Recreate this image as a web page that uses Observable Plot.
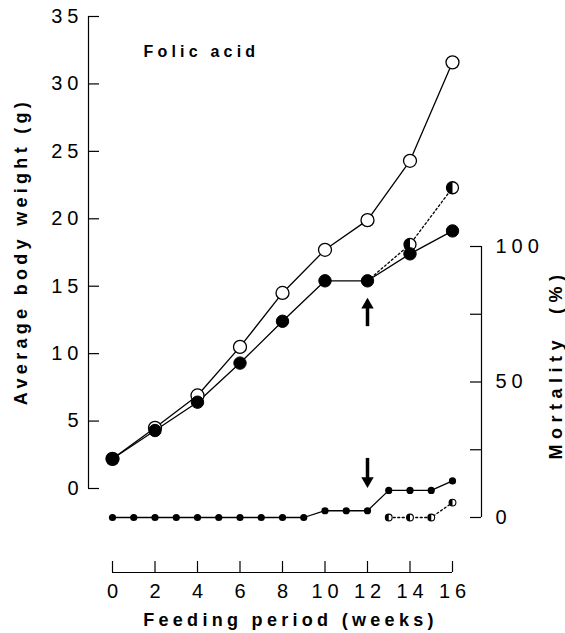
<!DOCTYPE html>
<html>
<head>
<meta charset="utf-8">
<script src="https://cdn.jsdelivr.net/npm/d3@7"></script>
<script src="https://cdn.jsdelivr.net/npm/@observablehq/plot@0.6"></script>
<style>
  html, body { margin: 0; padding: 0; background: #fff; }
  #chart svg { display: block; }
  g[aria-description="tick-labels"] text { letter-spacing: 5px; }
  g[aria-description="titles"] text { letter-spacing: 4.3px; white-space: pre; }
  g[aria-description="y2-title"] text { letter-spacing: 5.5px; white-space: pre; }
  g[aria-description="legend-title"] text { letter-spacing: 4.2px; }
</style>
</head>
<body>
<div id="chart"></div>
<script>
// ---- data ----
const weeks = [0, 2, 4, 6, 8, 10, 12, 14, 16];
const controlWeight   = [2.2, 4.5, 6.9, 10.5, 14.5, 17.7, 19.9, 24.3, 31.6];
const deficientWeight = [2.2, 4.3, 6.4, 9.3, 12.4, 15.4, 15.4, 17.4, 19.1];
const supplementedWeeks  = [12, 14, 16];
const supplementedWeight = [15.4, 18.1, 22.3];

const mortalityWeeks = [0, 1, 2, 3, 4, 5, 6, 7, 8, 9, 10, 11, 12, 13, 14, 15, 16];
const deficientMortality = [0, 0, 0, 0, 0, 0, 0, 0, 0, 0, 2.5, 2.5, 2.5, 10, 10, 10, 13.5];
const supplementedMortalityWeeks = [13, 14, 15, 16];
const supplementedMortality = [0, 0, 0, 5.5];

const weightTicks = [0, 5, 10, 15, 20, 25, 30, 35];
const mortalityTicks = [0, 25, 50, 75, 100];
const mortalityTickLabels = [0, 50, 100];
const weekTicks = [0, 2, 4, 6, 8, 10, 12, 14, 16];

const panelLabel = "Folic acid";
const xTitle = "Feeding period (weeks)";
const yTitle = "Average body weight (g)";
const y2Title = "Mortality\u00a0\u00a0(%)";

// arrows (annotation): week, start value, end (tip) value
const weightArrow = {week: 12, from: 12.0, to: 14.1};      // in g
const mortalityArrow = {week: 12, from: 21.8, to: 11.1};   // in %

// ---- layout ----
const W = 565, H = 633;
const px = d3.scaleLinear().domain([0, 16]).range([112, 452]);
const py = d3.scaleLinear().domain([0, 35]).range([488, 16]);
// mortality axis sits on the right, mapped into the weight scale
const mort = d3.scaleLinear().domain([0, 100]).range([py.invert(517), py.invert(246)]);

const xLeft = px.invert(88), xLeftTick = px.invert(99);
const xRight = px.invert(481), xRightTick = px.invert(470);
const yBase = py.invert(572), yBaseTick = py.invert(561);

const weightRows = (ws, vs) => ws.map((w, i) => ({week: w, value: vs[i]}));
const mortRows = (ws, vs) => ws.map((w, i) => ({week: w, value: mort(vs[i])}));

const control = weightRows(weeks, controlWeight);
const deficient = weightRows(weeks, deficientWeight);
const supplemented = weightRows(supplementedWeeks, supplementedWeight);
const mDef = mortRows(mortalityWeeks, deficientMortality);
const mSup = mortRows(supplementedMortalityWeeks, supplementedMortality);

const halfLeft = {
  draw(ctx, size) {
    const r = Math.sqrt(size / Math.PI);
    ctx.moveTo(0, -r);
    ctx.arc(0, 0, r, -Math.PI / 2, Math.PI / 2, true);
    ctx.closePath();
  }
};

const sw = 1.3;
const tickFont = 20;

const chart = Plot.plot({
  width: W,
  height: H,
  marginLeft: 0, marginRight: 0, marginTop: 0, marginBottom: 0,
  x: {domain: [0, 16], range: [112, 452], axis: null},
  y: {domain: [0, 35], range: [488, 16], axis: null},
  style: {fontFamily: "'Liberation Sans', Arial, sans-serif", background: "#fff", color: "#000"},
  marks: [
    // left axis
    Plot.ruleX([xLeft], {y1: 0, y2: 35, strokeWidth: 1.2}),
    Plot.ruleY(weightTicks, {y: d => d, x1: xLeft, x2: xLeftTick, strokeWidth: 1.2}),
    Plot.text(weightTicks, {x: xLeft, y: d => d, text: d => String(d), textAnchor: "end", dx: -5, fontSize: tickFont, ariaDescription: "tick-labels"}),
    // right axis
    Plot.ruleX([xRight], {y1: mort(0), y2: mort(100), strokeWidth: 1.2}),
    Plot.ruleY(mortalityTicks, {y: d => mort(d), x1: xRightTick, x2: xRight, strokeWidth: 1.2}),
    Plot.text(mortalityTickLabels, {x: xRight, y: d => mort(d), text: d => String(d), textAnchor: "start", dx: 14, fontSize: tickFont, ariaDescription: "tick-labels"}),
    // x axis
    Plot.ruleY([yBase], {x1: 0, x2: 16, strokeWidth: 1.2}),
    Plot.ruleX(weekTicks, {x: d => d, y1: yBase, y2: yBaseTick, strokeWidth: 1.2}),
    Plot.text(weekTicks, {x: d => d, y: yBase, text: d => String(d), dy: 19, dx: 2.5, fontSize: tickFont, ariaDescription: "tick-labels"}),
    // titles
    Plot.text([xTitle], {x: px.invert(290), y: py.invert(620), text: d => d, fontSize: 18, fontWeight: "bold", ariaDescription: "titles"}),
    Plot.text([yTitle], {x: px.invert(21), y: py.invert(251), text: d => d, fontSize: 18, fontWeight: "bold", rotate: -90, ariaDescription: "titles"}),
    Plot.text([y2Title], {x: px.invert(556), y: py.invert(364), text: d => d, fontSize: 18, fontWeight: "bold", rotate: -90, ariaDescription: "y2-title"}),
    Plot.text([panelLabel], {x: px.invert(143), y: py.invert(51), text: d => d, textAnchor: "start", fontSize: 16, fontWeight: "bold", ariaDescription: "legend-title"}),

    // weight lines
    Plot.line(control, {x: "week", y: "value", strokeWidth: sw}),
    Plot.line(supplemented, {x: "week", y: "value", strokeWidth: sw, strokeDasharray: "2,2.5"}),
    Plot.line(deficient, {x: "week", y: "value", strokeWidth: sw}),
    Plot.dot(control, {x: "week", y: "value", r: 6.5, fill: "#fff", stroke: "#000", strokeWidth: sw}),
    Plot.dot(supplemented.slice(1), {x: "week", y: "value", r: 6, fill: "#fff", stroke: "#000", strokeWidth: sw}),
    Plot.dot(supplemented.slice(1), {x: "week", y: "value", r: 6, symbol: halfLeft, fill: "#000", stroke: "none"}),
    Plot.dot(deficient, {x: "week", y: "value", r: 6.2, fill: "#000", stroke: "#000", strokeWidth: 1}),

    // mortality lines
    Plot.line(mDef, {x: "week", y: "value", strokeWidth: sw}),
    Plot.line(mSup, {x: "week", y: "value", strokeWidth: sw, strokeDasharray: "2,2.5"}),
    Plot.dot(mDef, {x: "week", y: "value", r: 3.6, fill: "#000"}),
    Plot.dot(mSup, {x: "week", y: "value", r: 3.4, fill: "#fff", stroke: "#000", strokeWidth: 1.1}),
    Plot.dot(mSup, {x: "week", y: "value", r: 3.4, symbol: halfLeft, fill: "#000", stroke: "none"}),

    // arrows
    Plot.ruleX([weightArrow], {x: "week", y1: "from", y2: d => d.to - 0.5, strokeWidth: 3.5}),
    Plot.dot([weightArrow], {x: "week", y: "to", symbol: "triangle", r: 4.6, fill: "#000", dy: 6.5}),
    Plot.ruleX([mortalityArrow], {x: "week", y1: d => mort(d.from), y2: d => mort(d.to + 3), strokeWidth: 3.5}),
    Plot.dot([mortalityArrow], {x: "week", y: d => mort(d.to), symbol: "triangle", r: 4.6, fill: "#000", rotate: 180, dy: -6.5})
  ]
});

document.getElementById("chart").appendChild(chart);
</script>
</body>
</html>
